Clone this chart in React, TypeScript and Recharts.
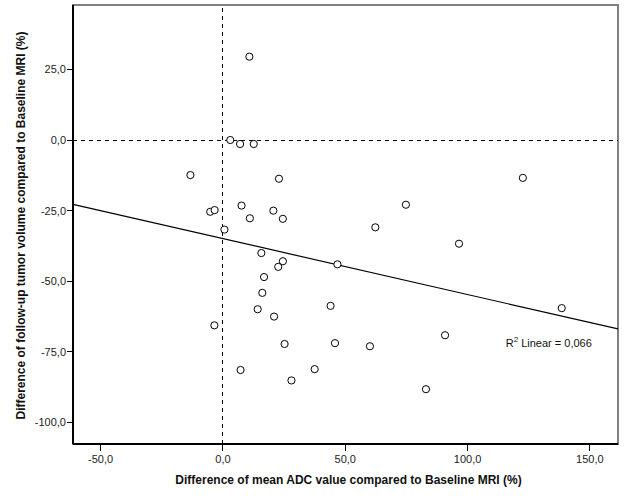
import React from 'react';
import {
  ScatterChart,
  Scatter,
  XAxis,
  YAxis,
  ReferenceLine,
  ReferenceDot,
  ReferenceArea,
} from 'recharts';

// Difference of mean ADC value (%) and follow-up tumour volume (%), one entry per patient
const adcDiff = [
  10.8, 3.0, 7.0, 12.6, -13.3, 22.9, -5.2, -3.4, 7.6, 11.0, 20.6, 24.5, 0.6,
  15.7, 24.5, 22.6, 16.8, 16.1, 14.2, 20.9, -3.5, 25.2, 7.2, 37.5, 28.0,
  46.8, 44.0, 45.8, 60.1, 90.8, 83.0, 138.5, 122.6, 74.8, 62.3, 96.5,
];
const volumeDiff = [
  29.5, 0, -1.4, -1.4, -12.4, -13.7, -25.4, -24.8, -23.2, -27.7, -25.0, -27.9, -31.7,
  -40.0, -42.9, -44.9, -48.5, -54.1, -59.9, -62.5, -65.6, -72.2, -81.4, -81.1, -85.1,
  -44.0, -58.7, -71.9, -73.0, -69.1, -88.2, -59.5, -13.4, -22.9, -30.9, -36.7,
];

const xTicks = [-50, 0, 50, 100, 150];
const yTicks = [-100, -75, -50, -25, 0, 25];
const xDomain = [-61.3, 161.5];
const yDomain = [-107.6, 47.8];

const fontFamily = "Arial, 'Liberation Sans', sans-serif";

const points = adcDiff.map((x, i) => ({ x, y: volumeDiff[i] }));

// least squares fit line
const n = points.length;
const meanX = points.reduce((s, p) => s + p.x, 0) / n;
const meanY = points.reduce((s, p) => s + p.y, 0) / n;
let sxy = 0;
let sxx = 0;
points.forEach(p => {
  sxy += (p.x - meanX) * (p.y - meanY);
  sxx += (p.x - meanX) * (p.x - meanX);
});
const slope = sxy / sxx;
const intercept = meanY - slope * meanX;
const fitSegment = [
  { x: xDomain[0], y: intercept + slope * xDomain[0] },
  { x: xDomain[1], y: intercept + slope * xDomain[1] },
];

const fmt = (v: number) => v.toFixed(1).replace('.', ',');

const OpenCircle = (props: any) => {
  const { cx, cy } = props;
  return <circle cx={cx} cy={cy} r={3.6} fill="#fff" stroke="#000" strokeWidth={1} />;
};

const css = `
body { margin: 0; }
.recharts-cartesian-axis-line,
.recharts-cartesian-axis-tick-line,
.recharts-reference-area-rect,
.crisp line { shape-rendering: crispEdges; }
`;

const App: React.FC = () => {
  return (
    <div style={{ position: 'absolute', left: 0, top: 0, background: '#fff' }}>
      <style>{css}</style>
      <ScatterChart
        width={626}
        height={501}
        margin={{ top: 5, right: 8, bottom: 0, left: 0 }}
      >
        {/* plot frame, grey on top and right */}
        <ReferenceArea
          x1={xDomain[0]}
          x2={xDomain[1]}
          y1={yDomain[0]}
          y2={yDomain[1]}
          fill="none"
          stroke="#808080"
          strokeWidth={2}
          ifOverflow="visible"
        />
        <XAxis
          type="number"
          dataKey="x"
          domain={xDomain}
          ticks={xTicks}
          allowDataOverflow
          height={57}
          tickFormatter={fmt}
          tickSize={7}
          tickMargin={4}
          axisLine={{ stroke: '#000', strokeWidth: 1.5 }}
          tickLine={{ stroke: '#000' }}
          tick={{ fill: '#222', fontSize: 11, fontFamily }}
          label={({ viewBox }: any) => (
            <text
              x={viewBox.x + viewBox.width / 2 + 3}
              y={480}
              textAnchor="middle"
              dominantBaseline="central"
              fontFamily={fontFamily}
              fontSize={12}
              fontWeight="bold"
              fill="#111"
            >
              Difference of mean ADC value compared to Baseline MRI (%)
            </text>
          )}
        />
        <YAxis
          type="number"
          dataKey="y"
          domain={yDomain}
          ticks={yTicks}
          allowDataOverflow
          width={73}
          tickFormatter={fmt}
          tickSize={6}
          tickMargin={1}
          axisLine={{ stroke: '#000', strokeWidth: 1.5 }}
          tickLine={{ stroke: '#000' }}
          tick={{ fill: '#222', fontSize: 11, fontFamily }}
          label={({ viewBox }: any) => (
            <text
              x={21}
              y={viewBox.y + viewBox.height / 2 + 1}
              textAnchor="middle"
              dominantBaseline="central"
              transform={`rotate(-90, 21, ${viewBox.y + viewBox.height / 2 + 1})`}
              fontFamily={fontFamily}
              fontSize={12}
              fontWeight="bold"
              fill="#111"
            >
              Difference of follow-up tumor volume compared to Baseline MRI (%)
            </text>
          )}
        />
        <ReferenceLine className="crisp" x={0} stroke="#000" strokeDasharray="4 4" />
        <ReferenceLine className="crisp" y={0} stroke="#000" strokeDasharray="4 4" />
        <ReferenceLine segment={fitSegment} stroke="#000" strokeWidth={1.2} ifOverflow="visible" />
        <Scatter data={points} shape={OpenCircle} isAnimationActive={false} />
        <ReferenceDot
          x={115.6}
          y={-71.7}
          r={0}
          stroke="none"
          fill="none"
          label={({ viewBox }: any) => (
            <text
              x={viewBox.x}
              y={viewBox.y}
              dominantBaseline="central"
              fontFamily={fontFamily}
              fontSize={11}
              fill="#111"
            >
              R
              <tspan fontSize={8} dy={-4}>2</tspan>
              <tspan dy={4}> Linear = 0,066</tspan>
            </text>
          )}
        />
      </ScatterChart>
    </div>
  );
};

export default App;
